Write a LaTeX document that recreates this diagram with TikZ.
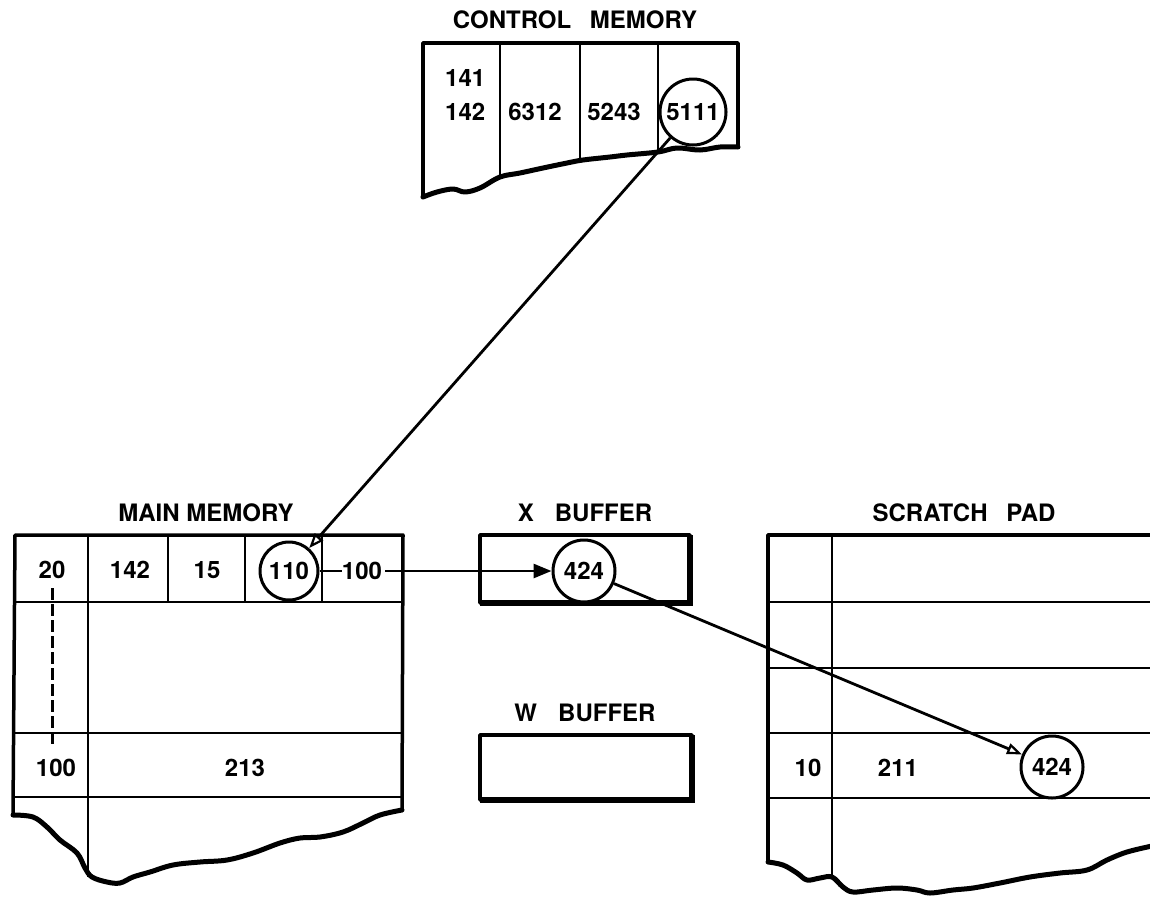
\documentclass[tikz,border=0pt]{standalone}
\usepackage{fontspec}
\setmainfont{TeX Gyre Heros}
\usetikzlibrary{arrows.meta}
\begin{document}
\begin{tikzpicture}[x=1pt,y=-1pt,
  lbl/.style={font=\fontsize{24}{26}\selectfont\bfseries, inner sep=0pt},
  num/.style={font=\fontsize{24}{26}\selectfont\bfseries, inner sep=0pt},
  ring/.style={circle, draw, line width=3pt, inner sep=0pt, minimum size=60pt, font=\fontsize{24}{26}\selectfont\bfseries},
  outer/.style={line width=3.5pt, line join=round},
  heavy/.style={line width=5.5pt},
  inner/.style={line width=2.8pt},
  wave/.style={line width=5pt, line cap=round, line join=round},
  arr/.style={line width=2.8pt},
  openarr/.style={arr, -{Triangle[open, length=15pt, width=11pt, line width=2.2pt]}},
  fillarr/.style={arr, -{Triangle[length=18pt, width=14pt]}},
  dashline/.style={line width=3pt, dash pattern=on 12pt off 4pt},
]
\useasboundingbox (0,0) rectangle (1150,897);

% ---------------- CONTROL MEMORY ----------------
\node[lbl] (lcm) at (575,20) {CONTROL\hspace{0.5em} MEMORY};
\draw[outer] (423,197) -- (423,43) -- (738,43) -- (738,147);
\draw[wave] plot[smooth, tension=0.6] coordinates {(423,197) (437,192) (453,189) (465,192) (480,188) (500,177) (520,173) (543,168) (567,163) (583,160) (610,157) (627,155) (658,152) (677,148) (700,150) (720,147) (738,147)};
\draw[inner] (500,43) -- (500,177);
\draw[inner] (580,43) -- (580,161);
\draw[inner] (658,43) -- (658,152);
\node[num, anchor=west] (t141) at (445,78) {141};
\node[num, anchor=west] (t142) at (445,112) {142};
\node[num] (t6312) at (535,112) {6312};
\node[num] (t5243) at (614,112) {5243};
\node[ring, minimum size=66pt] (c5111) at (693,112) {5111};

% ---------------- MAIN MEMORY ----------------
\node[lbl] (lmm) at (206,513) {MAIN MEMORY};
\draw[outer] (13,815) -- (15,535) -- (403,535) -- (402,810);
\draw[wave] plot[smooth, tension=0.6] coordinates {(402,810) (380,815) (363,823) (343,832) (320,837) (300,838) (280,843) (253,853) (227,860) (200,862) (173,865) (150,872) (133,877) (120,883) (107,882) (92,877) (85,868) (77,853) (60,840) (47,827) (33,817) (13,815)};
\draw[inner] (15,602) -- (403,602);
\draw[inner] (15,733) -- (403,733);
\draw[inner] (15,797) -- (403,797);
\draw[inner] (88,535) -- (88,877);
\draw[inner] (168,535) -- (168,602);
\draw[inner] (245,535) -- (245,602);
\draw[inner] (322,535) -- (322,602);
\node[num] (t20) at (52,570) {20};
\node[num] (t142m) at (130,570) {142};
\node[num] (t15) at (207,570) {15};
\node[ring, minimum size=58pt] (c110) at (289,571) {110};
\node[num] (t100a) at (362,571) {100};
\node[num] (t100b) at (56,768) {100};
\node[num] (t213) at (245,768) {213};
\draw[dashline, shorten <=9pt, shorten >=12pt] (t20.south) -- (t20.south |- t100b.north);
\draw[inner] (c110) -- (t100a);

% ---------------- X BUFFER ----------------
\node[lbl] (lxb) at (585,513) {X\hspace{0.6em} BUFFER};
\draw[outer] (480,535) rectangle (690,603);
\draw[heavy] (480,603) -- (690,603) -- (690,535);
\node[ring, minimum size=62pt, fill=white] (cx424) at (584,571) {424};

% ---------------- W BUFFER ----------------
\node[lbl] (lwb) at (585,713) {W\hspace{0.6em} BUFFER};
\draw[outer] (480,735) rectangle (692,800);
\draw[heavy] (480,800) -- (692,800) -- (692,735);

% ---------------- SCRATCH PAD ----------------
\node[lbl] (lsp) at (964,513) {SCRATCH\hspace{0.5em} PAD};
\draw[outer] (768,862) -- (768,535) -- (1152,535);
\draw[inner] (768,602) -- (1152,602);
\draw[inner] (768,668) -- (1152,668);
\draw[inner] (768,733) -- (1152,733);
\draw[inner] (768,798) -- (1152,798);
\draw[inner] (832,535) -- (832,877);
\draw[wave] plot[smooth, tension=0.6] coordinates {(768,862) (783,865) (797,873) (807,880) (820,878) (832,877) (843,887) (853,892) (873,890) (897,888) (917,890) (930,893) (953,890) (973,888) (1000,883) (1030,877) (1060,873) (1087,870) (1107,860) (1127,852) (1152,846)};
\node[num] (t10) at (808,768) {10};
\node[num] (t211) at (898,768) {211};
\node[ring, minimum size=62pt, fill=white] (csp424) at (1052,767) {424};

% ---------------- CONNECTORS ----------------
\draw[openarr] (c5111) -- (c110);
\draw[fillarr, shorten <=3pt] (t100a.east) -- (cx424);
\draw[openarr] (cx424) -- (csp424);
\end{tikzpicture}
\end{document}
